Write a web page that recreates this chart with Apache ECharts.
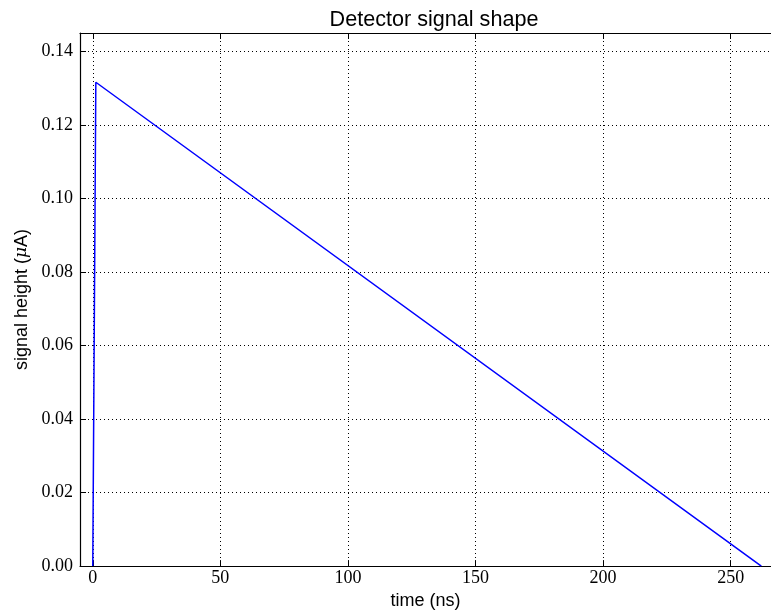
<!DOCTYPE html>
<html>
<head>
<meta charset="utf-8">
<script src="https://cdn.jsdelivr.net/npm/echarts@6/dist/echarts.min.js"></script>
<style>
  html, body { margin: 0; padding: 0; background: #ffffff; }
  #chart { width: 771px; height: 615px; }
</style>
</head>
<body>
<div id="chart"></div>
<script>
// Signal shape: fast rise, then linear fall back to zero
const timeNs = [0, 1.2, 262];
const signalUA = [0, 0.1316, 0];

// Tick positions on each axis
const xTicks = [0, 50, 100, 150, 200, 250];
const yTicks = [0, 0.02, 0.04, 0.06, 0.08, 0.10, 0.12, 0.14];

const X_MIN = -5, X_MAX = 265.8;
const Y_MIN = 0, Y_MAX = 0.145;

const tickFont = { fontFamily: 'Liberation Serif', fontSize: 18, color: '#000' };
const labelFont = { fontFamily: 'Liberation Sans', fontSize: 18, color: '#000' };
const gridLine = { show: true, lineStyle: { color: '#000', width: 1, type: [1, 3] } };
const frameLine = { show: true, onZero: false, lineStyle: { color: '#000', width: 1.2 } };

const chart = echarts.init(document.getElementById('chart'), null, { renderer: 'canvas' });

chart.setOption({
  animation: false,
  backgroundColor: '#ffffff',
  title: {
    text: 'Detector signal shape',
    left: 429,
    textAlign: 'center',
    top: 4,
    textStyle: { fontFamily: 'Liberation Sans', fontSize: 21.6, fontWeight: 'normal', color: '#000' }
  },
  grid: { left: 80, top: 33, right: 0, bottom: 44, containLabel: false },
  xAxis: [
    {
      type: 'value',
      position: 'bottom',
      min: X_MIN,
      max: X_MAX,
      name: 'time (ns)',
      nameLocation: 'middle',
      nameGap: 22,
      nameTextStyle: labelFont,
      axisLine: frameLine,
      axisTick: { show: true, inside: true, length: 6, customValues: xTicks, lineStyle: { color: '#000' } },
      axisLabel: Object.assign({ margin: 3, customValues: xTicks, formatter: v => String(v) }, tickFont),
      splitLine: gridLine
    },
    {
      type: 'value',
      position: 'top',
      min: X_MIN,
      max: X_MAX,
      axisLine: frameLine,
      axisTick: { show: true, inside: true, length: 6, customValues: xTicks, lineStyle: { color: '#000' } },
      axisLabel: { show: false },
      splitLine: { show: false }
    }
  ],
  yAxis: [
    {
      type: 'value',
      position: 'left',
      min: Y_MIN,
      max: Y_MAX,
      name: 'signal height ({mu|μ}A)',
      nameLocation: 'middle',
      nameRotate: 90,
      nameGap: 46,
      nameTextStyle: Object.assign({
        rich: { mu: { fontFamily: 'DejaVu Serif', fontStyle: 'italic', fontSize: 17, color: '#000' } }
      }, labelFont),
      axisLine: frameLine,
      axisTick: { show: true, inside: true, length: 6, customValues: yTicks, lineStyle: { color: '#000' } },
      axisLabel: Object.assign({ margin: 7, customValues: yTicks, formatter: v => v.toFixed(2) }, tickFont),
      splitLine: gridLine
    }
  ],
  series: [
    {
      type: 'line',
      xAxisIndex: 0,
      yAxisIndex: 0,
      data: timeNs.map((t, i) => [t, signalUA[i]]),
      showSymbol: false,
      symbol: 'none',
      clip: true,
      lineStyle: { color: '#0000ff', width: 1.5 },
      z: 5
    }
  ]
});
</script>
</body>
</html>
